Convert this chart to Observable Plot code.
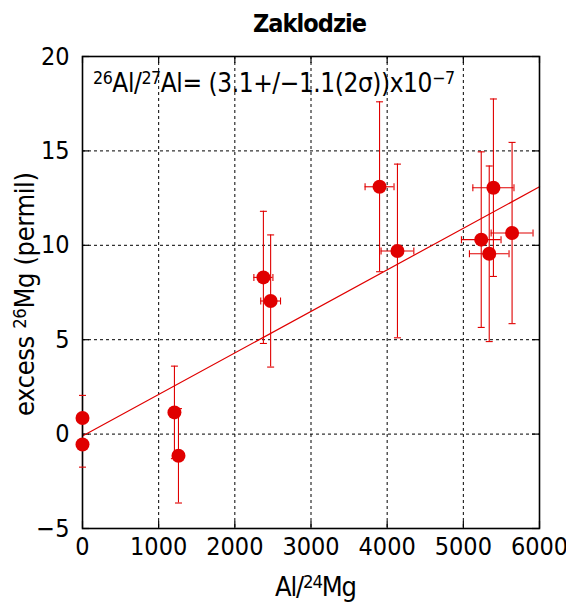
<!DOCTYPE html>
<html>
<head>
<meta charset="utf-8">
<style>
  html, body { margin: 0; padding: 0; background: #fff; }
  #chart { width: 566px; height: 604px; }
</style>
<script src="https://cdn.jsdelivr.net/npm/d3@7"></script>
<script src="https://cdn.jsdelivr.net/npm/@observablehq/plot@0.6"></script>
</head>
<body>
<div id="chart"></div>
<script>
// ---- data ----
const ratioAl      = [0, 0, 1207, 1260, 2375, 2470, 3900, 4135, 5235, 5340, 5395, 5640];
const ratioAlErr   = [0, 0, 0, 0, 125, 130, 190, 215, 260, 260, 270, 275];
const excessMg     = [0.85, -0.55, 1.15, -1.15, 8.3, 7.05, 13.1, 9.7, 10.3, 9.55, 13.05, 10.65];
const excessMgErr  = [1.2, 1.2, 2.45, 2.5, 3.5, 3.5, 4.5, 4.6, 4.65, 4.65, 4.7, 4.8];
const fitIntercept = -0.1;
const fitSlope     = 0.0022;
const fitRange     = [0, 6000];
const xTicks = [0, 1000, 2000, 3000, 4000, 5000, 6000];
const yTicks = [-5, 0, 5, 10, 15, 20];
const titleText = "Zaklodzie";

// ---- tables ----
const points = ratioAl.map((x, i) => ({x, ex: ratioAlErr[i], y: excessMg[i], ey: excessMgErr[i]}));
const xErrPoints = points.filter(d => d.ex > 0);
const fitLine = fitRange.map(x => ({x, y: fitIntercept + fitSlope * x}));

const W = 566, H = 604;
const mT = 56, mR = 27, mB = 76, mL = 82;
const innerW = W - mL - mR, innerH = H - mT - mB;
const red = "#e00000";
const font = "'Liberation Sans Narrow', 'DejaVu Sans Condensed', sans-serif";

const hcap = { draw(ctx, size) { const w = Math.sqrt(size / Math.PI); ctx.moveTo(-w, 0); ctx.lineTo(w, 0); } };
const vcap = { draw(ctx, size) { const w = Math.sqrt(size / Math.PI); ctx.moveTo(0, -w); ctx.lineTo(0, w); } };

const plot = Plot.plot({
  width: W, height: H,
  marginTop: mT, marginRight: mR, marginBottom: mB, marginLeft: mL,
  style: { fontFamily: font, fontSize: "25px", color: "black", background: "white" },
  x: { domain: [0, 6000], label: null },
  y: { domain: [-5, 20], label: null },
  marks: [
    Plot.gridX({ ticks: xTicks, stroke: "black", strokeOpacity: 1, strokeWidth: 1, strokeDasharray: "3,3" }),
    Plot.gridY({ ticks: yTicks, stroke: "black", strokeOpacity: 1, strokeWidth: 1, strokeDasharray: "3,3" }),
    Plot.axisX({ ticks: xTicks, tickSize: 0, tickPadding: 9, tickFormat: d3.format("d"), label: null }),
    Plot.axisY({ ticks: yTicks, tickSize: 0, tickPadding: 13, tickFormat: d3.format("d"), label: null }),
    Plot.tickX(xTicks, { x: d => d, insetTop: innerH - 7, stroke: "black", strokeWidth: 1.2 }),
    Plot.tickX(xTicks, { x: d => d, insetBottom: innerH - 7, stroke: "black", strokeWidth: 1.2 }),
    Plot.tickY(yTicks, { y: d => d, insetRight: innerW - 7, stroke: "black", strokeWidth: 1.2 }),
    Plot.tickY(yTicks, { y: d => d, insetLeft: innerW - 7, stroke: "black", strokeWidth: 1.2 }),
    Plot.line(fitLine, { x: "x", y: "y", stroke: red, strokeWidth: 1.2 }),
    Plot.ruleX(points, { x: "x", y1: d => d.y - d.ey, y2: d => d.y + d.ey, stroke: red, strokeWidth: 1.1 }),
    Plot.ruleY(xErrPoints, { y: "y", x1: d => d.x - d.ex, x2: d => d.x + d.ex, stroke: red, strokeWidth: 1.1 }),
    Plot.frame({ stroke: "black", strokeWidth: 1.6 }),
    Plot.dot(points, { x: "x", y: d => d.y - d.ey, symbol: hcap, r: 3.5, fill: "none", stroke: red, strokeWidth: 1.1 }),
    Plot.dot(points, { x: "x", y: d => d.y + d.ey, symbol: hcap, r: 3.5, fill: "none", stroke: red, strokeWidth: 1.1 }),
    Plot.dot(xErrPoints, { x: d => d.x - d.ex, y: "y", symbol: vcap, r: 3.5, fill: "none", stroke: red, strokeWidth: 1.1 }),
    Plot.dot(xErrPoints, { x: d => d.x + d.ex, y: "y", symbol: vcap, r: 3.5, fill: "none", stroke: red, strokeWidth: 1.1 }),
    Plot.dot(points, { x: "x", y: "y", r: 7, fill: red, stroke: "none" })
  ]
});
document.getElementById("chart").appendChild(plot);

// ---- text with superscripts ----
const svg = d3.select(plot);
function addText(x, y, parts, opts = {}) {
  const t = svg.append("text")
    .attr("x", x).attr("y", y)
    .attr("text-anchor", opts.anchor || "middle")
    .attr("font-family", font)
    .attr("font-size", opts.size || 25)
    .attr("font-weight", opts.weight || "normal")
    .attr("fill", "black");
  if (opts.length) t.attr("textLength", opts.length).attr("lengthAdjust", "spacing");
  if (opts.rotate) t.attr("transform", `rotate(${opts.rotate},${x},${y})`);
  let sup = false;
  parts.forEach(([s, isSup]) => {
    const ts = t.append("tspan").text(s);
    if (isSup) { ts.attr("font-size", "0.68em"); if (!sup) ts.attr("dy", "-0.45em"); sup = true; }
    else if (sup) { ts.attr("dy", "0.306em"); sup = false; }
  });
  return t;
}
addText(310, 32, [[titleText, false]], { size: 25, weight: "bold", length: 114 });
addText(316, 596, [["Al/", false], ["24", true], ["Mg", false]], { size: 27, length: 82 });
addText(34, 294, [["excess ", false], ["26", true], ["Mg (permil)", false]], { size: 27, rotate: -90, length: 244 });
addText(93, 92, [["26", true], ["Al/", false], ["27", true], ["Al= (3.1+/\u22121.1(2\u03c3))x10", false], ["\u22127", true]], { size: 26, anchor: "start", length: 362 });
</script>
</body>
</html>
